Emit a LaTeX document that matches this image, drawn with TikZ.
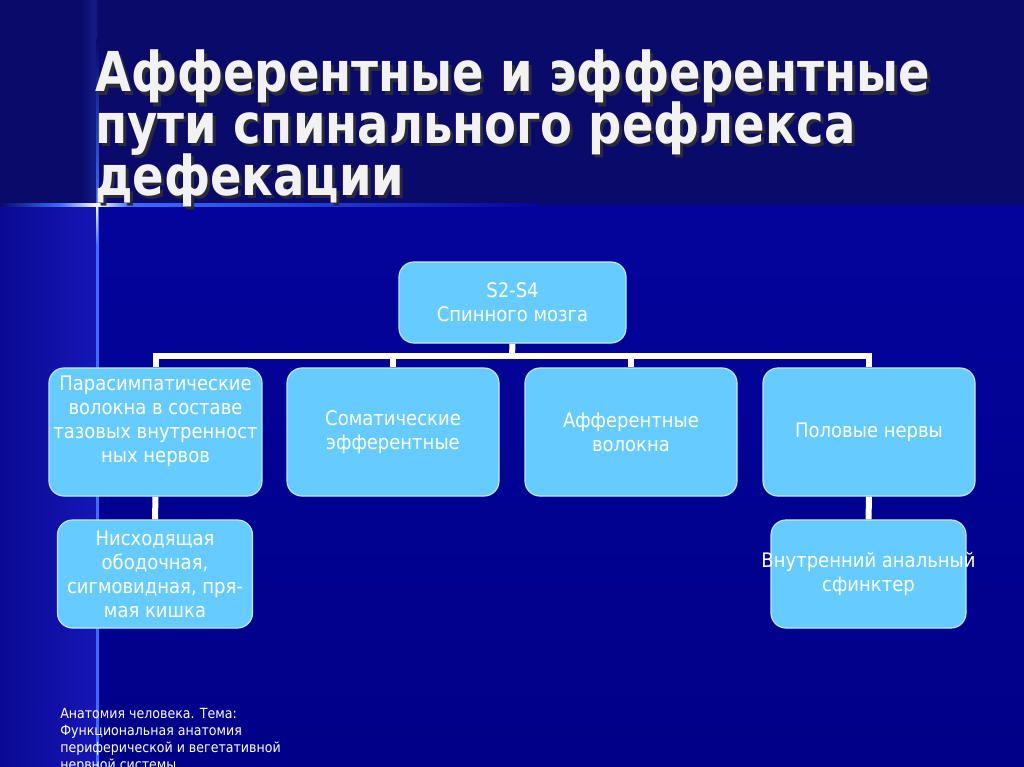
\documentclass[tikz,border=0pt]{standalone}
\usepackage{fontspec}
\setmainfont{DejaVu Sans}[FakeStretch=0.9]
\newfontfamily\titlefont{DejaVu Sans Bold}[FakeStretch=0.845]
\definecolor{topbg}{HTML}{0A0A6A}
\definecolor{mainA}{HTML}{04049C}
\definecolor{mainB}{HTML}{000088}
\definecolor{stripA}{HTML}{1616B6}
\definecolor{stripB}{HTML}{0A0A94}
\definecolor{lineblue}{HTML}{3A6CFF}
\definecolor{boxfill}{HTML}{66CCFF}
\definecolor{boxedge}{HTML}{BDE8FF}
\definecolor{titlecol}{HTML}{F2F2F2}
\definecolor{shadowcol}{HTML}{2A2A3A}
\def\pxu{0.75pt}
\tikzset{
  boxtext/.style={text=white, align=center, font=\fontsize{15}{18}\selectfont},
  box/.style={draw=boxedge, line width=0.9pt, fill=boxfill, rounded corners=11.25pt,
    inner sep=0pt, boxtext},
  link/.style={draw=white, line width=4.5pt},
  titletext/.style={anchor=base west, inner sep=0pt, text=titlecol,
    font=\titlefont\fontsize{41.25}{41.25}\selectfont},
  titleshadow/.style={titletext, text=shadowcol},
  foot/.style={anchor=north west, inner sep=0pt, text=white, align=left,
    font=\fontsize{10.5}{12.75}\selectfont}
}
\begin{document}
\begin{tikzpicture}[x=0.75pt,y=-0.75pt]
\useasboundingbox (0,0) rectangle (1024,767);
\clip (0,0) rectangle (1024,767);
% background
\fill[topbg] (0,0) rectangle (1024,767);
\shade[top color=mainA, bottom color=mainB] (97,205) rectangle (1024,767);
\shade[left color=stripB, right color=stripA] (0,205) rectangle (97,767);
\shade[left color=topbg, right color=topbg!80!lineblue] (80,0) rectangle (97,205);
% vertical and horizontal light lines
\shade[top color=topbg, bottom color=lineblue] (96,40) rectangle (98.5,205);
\fill[lineblue] (96,205) rectangle (98.5,767);
\shade[left color=topbg, right color=lineblue] (0,203.5) rectangle (60,206);
\shade[left color=lineblue, right color=mainA] (130,203.5) rectangle (540,206);
\shade[left color=lineblue, right color=white] (60,203.5) rectangle (97,206);
\shade[left color=white, right color=lineblue] (97,203.5) rectangle (130,206);
\shade[top color=white, bottom color=lineblue] (96.5,205) rectangle (98,245);
% title
\foreach \tx/\ty/\tt in {95/92/{Афферентные и эфферентные},95/143.5/{пути спинального рефлекса},95/195/{дефекации}}{
  \node[titleshadow] at (\tx+3,\ty+3) {\tt};
  \node[titletext] (t\ty) at (\tx,\ty) {\tt};
}
% boxes
\node[box, minimum width=227*\pxu, minimum height=81*\pxu] (top) at (512.5,302.5) {S2-S4\\Спинного мозга};
\node[box, minimum width=213*\pxu, minimum height=128*\pxu,
  label={[boxtext, inner sep=0pt, yshift=8.25pt]center:Парасимпатические\\волокна в составе\\тазовых внутренност\\ных нервов}] (b1) at (155.5,432) {};
\node[box, minimum width=212*\pxu, minimum height=128*\pxu] (b2) at (393,432) {Соматические\\эфферентные};
\node[box, minimum width=212*\pxu, minimum height=128*\pxu] (b3) at (631,432) {Афферентные\\волокна};
\node[box, minimum width=212*\pxu, minimum height=128*\pxu] (b4) at (869,432) {Половые нервы};
\node[box, minimum width=195*\pxu, minimum height=108*\pxu] (b5) at (155,574) {Нисходящая\\ободочная,\\сигмовидная, пря-\\мая кишка};
\node[box, minimum width=195*\pxu, minimum height=108*\pxu] (b6) at (868.5,574) {\makebox[0pt][c]{Внутренний анальный}\\сфинктер};
% connectors
\coordinate (bus) at (512,355.5);
\draw[link] (top.south) -- (bus);
\draw[link] (bus) -| (b1.north);
\draw[link] (bus) -| (b2.north);
\draw[link] (bus) -| (b3.north);
\draw[link] (bus) -| (b4.north);
\draw[link] (b1.south) -- (b5.north);
\draw[link] (b4.south) -- (b6.north);
% footer
\node[foot] (foot) at (60,708) {Анатомия человека. Тема:\\Функциональная анатомия\\периферической и вегетативной\\нервной системы};
\end{tikzpicture}
\end{document}
